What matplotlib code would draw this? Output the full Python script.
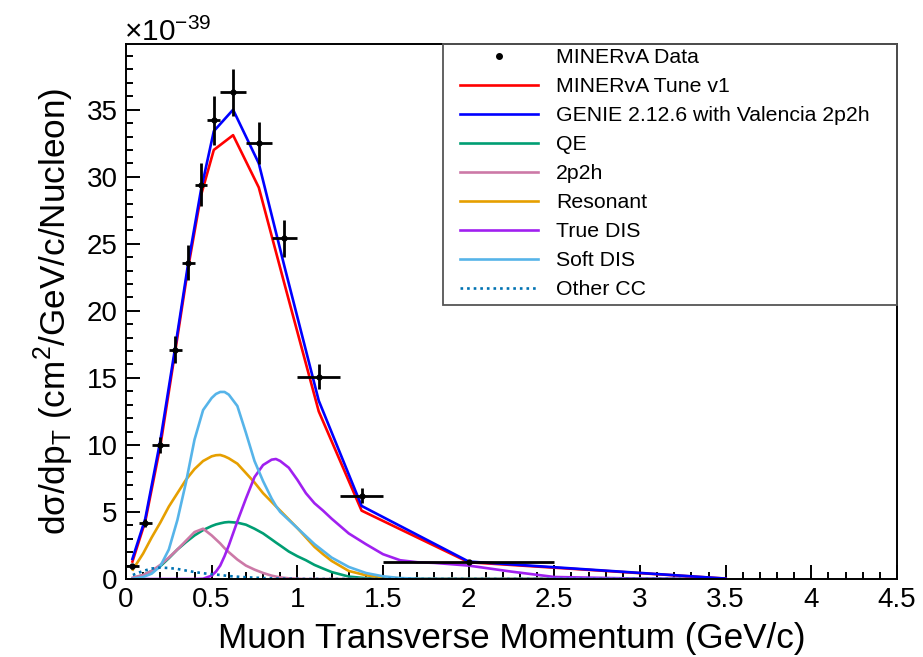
import matplotlib
matplotlib.use('Agg')
import matplotlib.pyplot as plt
from matplotlib.lines import Line2D
from matplotlib.patches import Rectangle
from matplotlib.ticker import MultipleLocator

plt.rcParams['font.family'] = ['Liberation Sans', 'DejaVu Sans']
plt.rcParams['mathtext.fontset'] = 'custom'
plt.rcParams['mathtext.rm'] = 'Liberation Sans'

# data points (units of 1e-39 cm^2/GeV/c/nucleon)
pt_data = [0.0375, 0.1125, 0.2, 0.2875, 0.3625, 0.4375, 0.5125, 0.625, 0.775, 0.925, 1.125, 1.375, 2.0]
pt_halfwidth = [0.0375, 0.0375, 0.05, 0.0375, 0.0375, 0.0375, 0.0375, 0.075, 0.075, 0.075, 0.125, 0.125, 0.5]
xsec_data = [0.95, 4.15, 10.0, 17.1, 23.6, 29.4, 34.2, 36.3, 32.5, 25.4, 15.1, 6.2, 1.3]
xsec_err = [0.2, 0.3, 0.6, 1.0, 1.3, 1.6, 1.8, 1.75, 1.55, 1.35, 0.9, 0.55, 0.1]

# full model predictions at bin centres
pt_model = [0.0375, 0.1125, 0.2, 0.2875, 0.3625, 0.4375, 0.5125, 0.625, 0.775, 0.925, 1.125, 1.375, 2.0, 3.5]
tune_v1 = [1.3, 4.3, 9.9, 17.0, 23.2, 28.6, 32.0, 33.1, 29.2, 22.0, 12.5, 5.1, 1.25, 0.03]
genie = [1.5, 4.5, 10.3, 17.3, 23.5, 29.0, 33.4, 35.0, 31.0, 23.3, 13.3, 5.45, 1.3, 0.03]

# components
pt_comp = [0.04, 0.1, 0.15, 0.2, 0.25, 0.3, 0.35, 0.4, 0.45, 0.5, 0.525, 0.55, 0.575, 0.6, 0.65, 0.7,
           0.75, 0.8, 0.85, 0.875, 0.9, 0.95, 1.0, 1.05, 1.1, 1.15, 1.2, 1.3, 1.4, 1.5, 1.6,
           1.7, 1.8, 2.0, 2.25, 2.5, 3.0, 3.5]
qe = [0.05, 0.3, 0.6, 0.95, 1.55, 2.2, 2.75, 3.25, 3.65, 3.95, 4.07, 4.15, 4.22, 4.25, 4.2, 4.05,
      3.75, 3.4, 2.95, 2.72, 2.5, 2.05, 1.7, 1.4, 1.05, 0.78, 0.52, 0.18, 0.06, 0.02, 0.0,
      0.0, 0.0, 0.0, 0.0, 0.0, 0.0, 0.0]
mec = [0.1, 0.3, 0.6, 1.05, 1.6, 2.2, 2.85, 3.5, 3.75, 3.25, 2.95, 2.65, 2.3, 2.0, 1.45, 1.0,
       0.7, 0.45, 0.25, 0.18, 0.12, 0.05, 0.02, 0.0, 0.0, 0.0, 0.0, 0.0, 0.0, 0.0, 0.0,
       0.0, 0.0, 0.0, 0.0, 0.0, 0.0, 0.0]
resonant = [0.7, 1.9, 3.1, 4.2, 5.4, 6.4, 7.4, 8.2, 8.8, 9.15, 9.23, 9.25, 9.15, 9.0, 8.6, 7.9,
            7.2, 6.4, 5.75, 5.42, 5.1, 4.45, 3.8, 3.1, 2.4, 1.85, 1.35, 0.6, 0.28, 0.12, 0.05,
            0.02, 0.0, 0.0, 0.0, 0.0, 0.0, 0.0]
true_dis = [0.0, 0.0, 0.0, 0.0, 0.0, 0.0, 0.0, 0.0, 0.02, 0.25, 0.55, 1.0, 1.7, 2.5, 4.3, 6.0,
            7.6, 8.5, 8.9, 8.95, 8.8, 8.3, 7.4, 6.4, 5.65, 5.1, 4.5, 3.4, 2.6, 1.85, 1.4,
            1.25, 1.2, 1.0, 0.55, 0.15, 0.03, 0.0]
soft_dis = [0.02, 0.15, 0.4, 0.95, 2.2, 4.4, 7.2, 10.4, 12.6, 13.5, 13.8, 13.95, 13.95, 13.75, 12.9, 10.9,
            8.8, 7.3, 6.0, 5.45, 5.0, 4.4, 3.8, 3.2, 2.6, 2.1, 1.6, 0.9, 0.45, 0.2, 0.07,
            0.03, 0.01, 0.0, 0.0, 0.0, 0.0, 0.0]
other_cc = [0.3, 0.6, 0.78, 0.85, 0.82, 0.75, 0.63, 0.52, 0.43, 0.36, 0.33, 0.3, 0.26, 0.22, 0.17, 0.13,
            0.1, 0.07, 0.05, 0.04, 0.03, 0.02, 0.01, 0.0, 0.0, 0.0, 0.0, 0.0, 0.0, 0.0, 0.0,
            0.0, 0.0, 0.0, 0.0, 0.0, 0.0, 0.0]

fig = plt.figure(figsize=(9.23, 6.57), dpi=100)
ax = fig.add_axes([126/923, 1 - 579/657, (897 - 126)/923, (579 - 44)/657])

lw = 1.9
ax.plot(pt_comp, qe, color='#009E73', lw=lw)
ax.plot(pt_comp, mec, color='#CC79A7', lw=lw)
ax.plot(pt_comp, resonant, color='#E69F00', lw=lw)
ax.plot(pt_comp, true_dis, color='#A020F0', lw=lw)
ax.plot(pt_comp, soft_dis, color='#56B4E9', lw=lw)
ax.plot(pt_comp, other_cc, color='#0072B2', lw=lw, ls=(0, (1, 1.5)))
ax.plot(pt_model, tune_v1, color='#FF0000', lw=lw)
ax.plot(pt_model, genie, color='#0000FF', lw=lw)
ax.errorbar(pt_data, xsec_data, xerr=pt_halfwidth, yerr=xsec_err, fmt='o', ms=3.5,
            color='k', ecolor='k', elinewidth=2, capsize=0, zorder=5)

ax.set_xlim(0, 4.5)
ax.set_ylim(0, 39.9)
ax.xaxis.set_major_locator(MultipleLocator(0.5))
ax.xaxis.set_minor_locator(MultipleLocator(0.1))
ax.yaxis.set_major_locator(MultipleLocator(5))
ax.yaxis.set_minor_locator(MultipleLocator(1))
ax.xaxis.set_major_formatter(plt.FuncFormatter(lambda v, p: f'{v:g}'))
ax.tick_params(which='both', direction='in', top=False, right=False, width=1.4, labelsize=20)
ax.tick_params(which='major', length=10, pad=6)
ax.tick_params(which='minor', length=5)
for s in ax.spines.values():
    s.set_linewidth(1.4)

ax.set_xlabel('Muon Transverse Momentum (GeV/c)', fontsize=25.3, labelpad=6)
ax.set_ylabel(r'd$\mathregular{\sigma}$/dp$_\mathregular{T}$ (cm$^\mathregular{2}$/GeV/c/Nucleon)',
              fontsize=25.3, labelpad=8)
ax.text(-0.002, 0.994, '\u00d710$^\\mathregular{\u221239}$',
        transform=ax.transAxes, fontsize=21.5, ha='left', va='bottom')

handles = [
    Line2D([], [], marker='o', ms=4, color='k', ls='none'),
    Line2D([], [], color='#FF0000', lw=lw),
    Line2D([], [], color='#0000FF', lw=lw),
    Line2D([], [], color='#009E73', lw=lw),
    Line2D([], [], color='#CC79A7', lw=lw),
    Line2D([], [], color='#E69F00', lw=lw),
    Line2D([], [], color='#A020F0', lw=lw),
    Line2D([], [], color='#56B4E9', lw=lw),
    Line2D([], [], color='#0072B2', lw=lw, ls=(0, (1, 1.5))),
]
labels = ['MINERvA Data', 'MINERvA Tune v1', 'GENIE 2.12.6 with Valencia 2p2h', 'QE', '2p2h',
          'Resonant', 'True DIS', 'Soft DIS', 'Other CC']
ax.legend(handles, labels, loc='upper left', bbox_to_anchor=(0.433, 0.992), borderaxespad=0,
          fontsize=15.3, frameon=False, handlelength=3.67, handletextpad=0.85,
          labelspacing=0.47, borderpad=0)
# legend frame
ax.add_patch(Rectangle((0.411, 0.512), 0.589, 0.488, transform=ax.transAxes, fill=False,
                       edgecolor='#555555', lw=1.3, clip_on=False, zorder=6))

fig.savefig('out.png', dpi=100)
